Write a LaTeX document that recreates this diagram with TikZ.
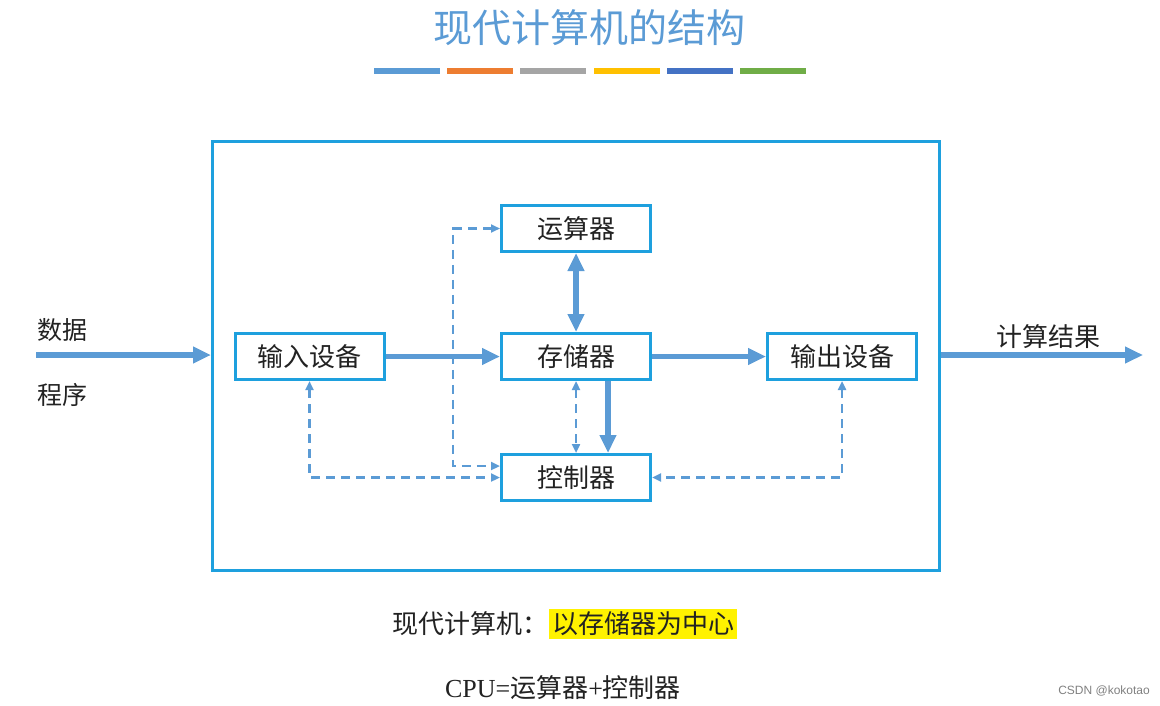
\documentclass[tikz,border=0pt]{standalone}
\usepackage{fontspec}
\setmainfont{Liberation Serif}
\newfontfamily\cjk{Noto Sans CJK SC}
\newfontfamily\latinsans{Liberation Sans}
\usetikzlibrary{arrows.meta,calc}
\definecolor{frameblue}{RGB}{30,160,222}
\definecolor{arrowblue}{RGB}{91,155,213}
\definecolor{barorange}{RGB}{237,125,49}
\definecolor{bargray}{RGB}{165,165,165}
\definecolor{baryellow}{RGB}{255,192,0}
\definecolor{bardarkblue}{RGB}{68,114,196}
\definecolor{bargreen}{RGB}{112,173,71}
\definecolor{inkgray}{RGB}{34,34,34}
\newcommand{\setfs}[1]{\fontsize{#1}{#1}\selectfont}

\begin{document}
\begin{tikzpicture}[x=1pt,y=-1pt,
	every node/.style={inner sep=0pt,text=inkgray},
	unitbox/.style={draw=frameblue,line width=3pt,fill=white,minimum width=149pt,minimum height=46pt,font=\cjk\setfs{26}},
	busarrow/.style={arrowblue,line width=5.5pt,-{Triangle[length=18pt,width=16pt]}},
	busboth/.style={arrowblue,line width=5.5pt,{Triangle[length=18pt,width=16pt]}-{Triangle[length=18pt,width=16pt]}},
	ctrlline/.style={arrowblue,line width=2.5pt,dash pattern=on 9pt off 6pt,{Triangle[length=9pt,width=8pt]}-{Triangle[length=9pt,width=8pt]}},
	declare function={
		colIn = 309.5;
		colMid = 576;
		colOut = 842;
		rowTop = 228.5;
		rowMid = 356.5;
		rowBot = 477.5;
		busX = 608;
		detourX = 453;
		detourY = 466;
	}
	]
	\useasboundingbox (0,0) rectangle (1160,706);
	% title and colour bars
	\node[font=\cjk\setfs{39},text=arrowblue] (title) at (589,28) {现代计算机的结构};
	\foreach \c [count=\i from 0] in {arrowblue,barorange,bargray,baryellow,bardarkblue,bargreen}{
		\fill[\c] (374+\i*73.2,68) rectangle ++(66,6);
	}
	% machine frame
	\node[draw=frameblue,line width=3pt,minimum width=727pt,minimum height=429pt] (frame) at (576,356) {};
	% units
	\node[unitbox] (alu) at (colMid,rowTop) {运算器};
	\node[unitbox] (inp) at (colIn,rowMid) {输入设备};
	\node[unitbox] (mem) at (colMid,rowMid) {存储器};
	\node[unitbox] (outp) at (colOut,rowMid) {输出设备};
	\node[unitbox] (ctl) at (colMid,rowBot) {控制器};
	% data paths
	\coordinate (src) at (36,355);
	\coordinate (sink) at (1143,355);
	\draw[busarrow] (src) -- (src -| frame.west);
	\draw[busarrow] (frame.east |- sink) -- (sink);
	\draw[busarrow] (inp.east) -- (mem.west);
	\draw[busarrow] (mem.east) -- (outp.west);
	\draw[busboth] (alu.south) -- (mem.north);
	\draw[busarrow] (mem.south -| busX,0) -- (ctl.north -| busX,0);
	% control paths
	\coordinate (bend) at (detourX,detourY);
	\draw[ctrlline] (alu.west) -| (bend) -- (bend -| ctl.west);
	\draw[ctrlline] (inp.south) |- (ctl.west);
	\draw[ctrlline] (outp.south) |- (ctl.east);
	\draw[ctrlline] (mem.south) -- (ctl.north);
	% labels
	\node[anchor=west,font=\cjk\setfs{25}] (data) at (37,330) {数据};
	\node[anchor=west,font=\cjk\setfs{25}] (prog) at (37,395) {程序};
	\node[font=\cjk\setfs{26}] (result) at (1048,337) {计算结果};
	\node[anchor=east,font=\cjk\setfs{26}] (modern) at (549,624) {现代计算机：};
	\node[anchor=west,fill=yellow,inner xsep=3pt,inner ysep=3pt,font=\cjk\setfs{26}] (centre) at (modern.east) {以存储器为中心};
	\node[font=\setfs{26}] (cpu) at (563,688) {CPU={\cjk 运算器}+{\cjk 控制器}};
	\node[anchor=east,font=\latinsans\setfs{12},text=gray] (mark) at (1150,691) {CSDN @kokotao};
\end{tikzpicture}
\end{document}
